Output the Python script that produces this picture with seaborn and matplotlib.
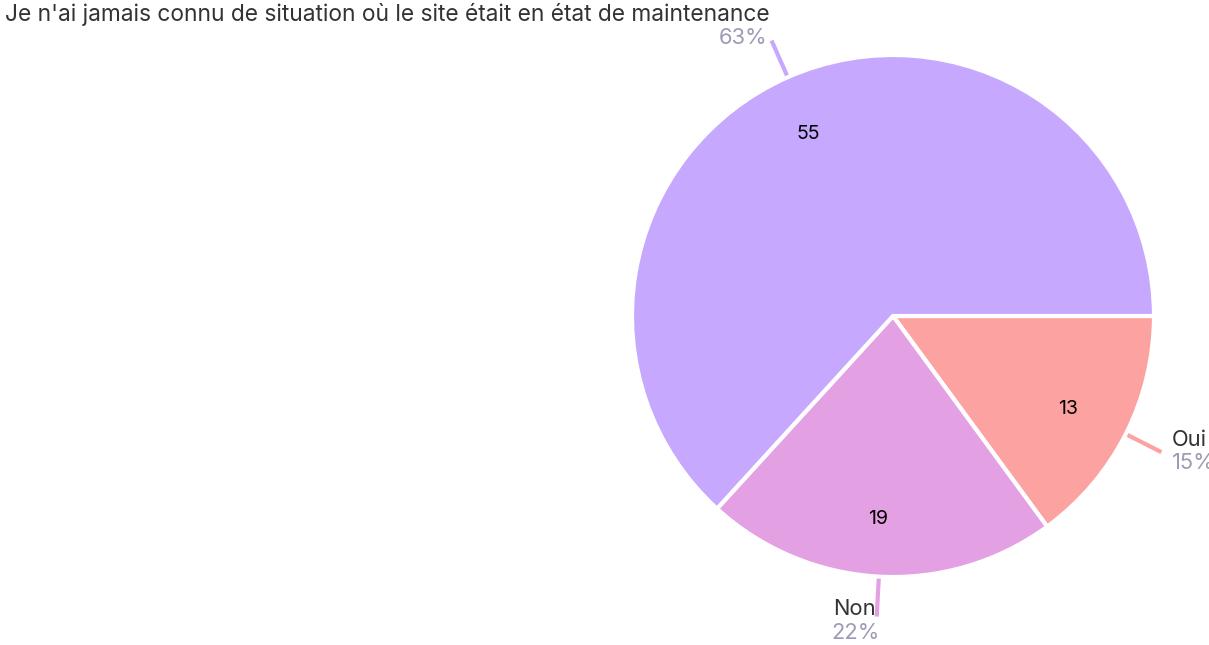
import numpy as np
import matplotlib
matplotlib.use("Agg")
import matplotlib.pyplot as plt
import seaborn as sns

labels = ["Oui", "Non", "Je n'ai jamais connu de situation où le site était en état de maintenance"]
values = [13, 19, 55]
colors = ["#FCA3A1", "#E3A0E3", "#C6A8FE"]

sns.set_theme(style="white")
plt.rcParams['font.family'] = ['Inter', 'DejaVu Sans']

W, H = 1209, 645
fig = plt.figure(figsize=(W / 100, H / 100), dpi=100)
ax = fig.add_axes([0, 0, 1, 1])

cx, cy, R = 893, H - 316, 261
wedges, _ = ax.pie(values, colors=colors, startangle=0, counterclock=False,
                   center=(cx, cy), radius=R, frame=True,
                   wedgeprops=dict(edgecolor='white', linewidth=3))
ax.set_xlim(0, W)
ax.set_ylim(0, H)
ax.set_aspect('equal')
ax.axis('off')

total = sum(values)
pcts = [round(v / total * 100) for v in values]
txt_dark = "#333333"
txt_grey = "#9B9BB4"

for w, v, p, lab, c in zip(wedges, values, pcts, labels, colors):
    mid = np.deg2rad((w.theta1 + w.theta2) / 2)
    ca, sa = np.cos(mid), np.sin(mid)
    ax.text(cx + 201 * ca - 4, cy + 201 * sa - 2, str(v), ha='center', va='center',
            fontsize=14, color='black')
    ax.plot([cx + 263 * ca, cx + 301 * ca], [cy + 263 * sa, cy + 301 * sa],
            color=c, lw=3, solid_capstyle='butt')

fs = 15.8
ax.text(1172, H - 440, "Oui", ha='left', va='center', fontsize=fs, color=txt_dark)
ax.text(1172, H - 463, f"{pcts[0]}%", ha='left', va='center', fontsize=fs, color=txt_grey)
ax.text(876, H - 609, "Non", ha='right', va='center', fontsize=fs, color=txt_dark)
ax.text(831, H - 633, f"{pcts[1]}%", ha='left', va='center', fontsize=fs, color=txt_grey)
ax.text(5, H - 15, labels[2], ha='left', va='center', fontsize=16.4, color=txt_dark)
ax.text(767, H - 38, f"{pcts[2]}%", ha='right', va='center', fontsize=fs, color=txt_grey)

fig.savefig("out.png", dpi=100)
